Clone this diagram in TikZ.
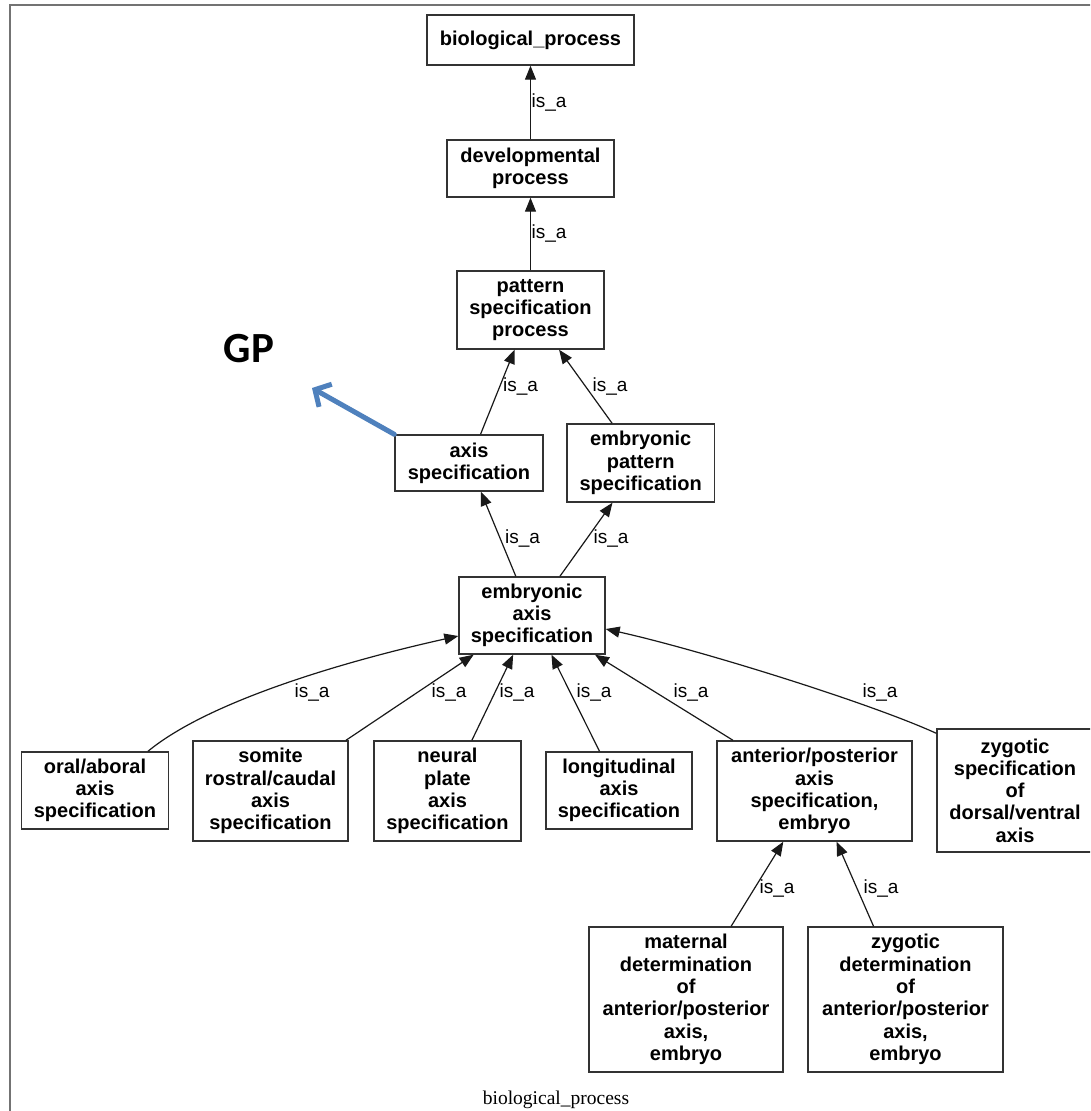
\documentclass[tikz,border=0pt]{standalone}
\usepackage{fontspec}
\setmainfont{Liberation Sans}
\newfontfamily\captionserif{Liberation Serif}
\newfontfamily\gpfont{Carlito}
\usetikzlibrary{arrows.meta}
\definecolor{gpblue}{HTML}{4F81BD}
\begin{document}
\begin{tikzpicture}[x=1pt,y=-1pt,
  term/.style={draw=black!80, line width=1.4pt, fill=white, align=center, inner sep=0pt,
    font=\bfseries\fontsize{20}{22.3}\selectfont},
  isa/.style={draw=black!90, line width=1.2pt, -{Triangle[length=14pt,width=11pt]}},
  lbl/.style={font=\fontsize{19}{22}\selectfont, inner sep=0pt},
  gparrow/.style={draw=gpblue, line width=5pt, line cap=round,
    -{Straight Barb[length=12pt,width=26pt]}},
]
\useasboundingbox (0,0) rectangle (1090,1111);
\fill[white] (0,0) rectangle (1090,1111);
\clip (0,0) rectangle (1090,1111);

% outer frame
\draw[draw=black!55, line width=2pt] (10,4.5) rectangle (1110,1130);

% terms
\node[term, minimum width=207pt, minimum height=50pt] (bio) at (530.5,40) {biological\_process};
\node[term, minimum width=167pt, minimum height=57pt] (dev) at (530.5,168.5) {developmental\\process};
\node[term, minimum width=147pt, minimum height=78pt] (pattern) at (530.5,310) {pattern\\specification\\process};
\node[term, minimum width=148pt, minimum height=56pt] (axis) at (469,463) {axis\\specification};
\node[term, minimum width=147.5pt, minimum height=78pt] (embpat) at (640.7,463) {embryonic\\pattern\\specification};
\node[term, minimum width=146pt, minimum height=77pt] (embaxis) at (532,615.5) {embryonic\\axis\\specification};
\node[term, minimum width=147.5pt, minimum height=77pt] (oral) at (95,790.5) {oral/aboral\\axis\\specification};
\node[term, minimum width=155pt, minimum height=100pt] (somite) at (270.5,791) {somite\\rostral/caudal\\axis\\specification};
\node[term, minimum width=147pt, minimum height=100pt] (neural) at (447.5,791) {neural\\plate\\axis\\specification};
\node[term, minimum width=146pt, minimum height=77pt] (longi) at (619,790.5) {longitudinal\\axis\\specification};
\node[term, minimum width=195pt, minimum height=100pt] (antpost) at (814.5,791) {anterior/posterior\\axis\\specification,\\embryo};
\node[term, minimum width=156pt, minimum height=123pt] (zygspec) at (1015,790.5) {zygotic\\specification\\of\\dorsal/ventral\\axis};
\node[term, minimum width=194pt, minimum height=145pt] (maternal) at (686,999.5) {maternal\\determination\\of\\anterior/posterior\\axis,\\embryo};
\node[term, minimum width=195pt, minimum height=145pt] (zygdet) at (905.5,999.5) {zygotic\\determination\\of\\anterior/posterior\\axis,\\embryo};

% is_a relations
\draw[isa] (dev) -- (bio);
\draw[isa] (pattern) -- (dev);
\draw[isa] (axis) -- (pattern);
\draw[isa] (embpat) -- (pattern);
\draw[isa] (embaxis) -- (axis);
\draw[isa] (embaxis) -- (embpat);
\draw[isa] ([xshift=-21.5pt]oral.north east) .. controls (210,700) and (350,660) .. ([yshift=-20.5pt]embaxis.west);
\draw[isa] (somite) -- (embaxis);
\draw[isa] (neural) -- (embaxis);
\draw[isa] (longi) -- (embaxis);
\draw[isa] (antpost) -- (embaxis);
\draw[isa] ([yshift=-5pt]zygspec.north west) .. controls (870,703) and (700,650) .. ([yshift=-13.5pt]embaxis.east);
\draw[isa] (maternal) -- (antpost);
\draw[isa] (zygdet) -- (antpost);

% edge labels
\node[lbl] (l1) at (549,103) {is\_a};
\node[lbl] (l2) at (549,233) {is\_a};
\node[lbl] (l3) at (520.5,386) {is\_a};
\node[lbl] (l4) at (610,386) {is\_a};
\node[lbl] (l5) at (522.6,538) {is\_a};
\node[lbl] (l6) at (611,538) {is\_a};
\node[lbl] (l7) at (312,692) {is\_a};
\node[lbl] (l8) at (449,692) {is\_a};
\node[lbl] (l9) at (517,692) {is\_a};
\node[lbl] (l10) at (594,692) {is\_a};
\node[lbl] (l11) at (691,692) {is\_a};
\node[lbl] (l12) at (880,692) {is\_a};
\node[lbl] (l13) at (777,888) {is\_a};
\node[lbl] (l14) at (881,888) {is\_a};

% annotation
\node[font=\gpfont\bfseries\fontsize{43}{43}\selectfont, inner sep=0pt] (gp) at (249,349) {GP};
\coordinate (gptip) at (312,388);
\draw[gparrow] (axis.north west) -- (gptip);

% caption
\node[font=\captionserif\fontsize{19.5}{22}\selectfont, inner sep=0pt] (caption) at (556,1100) {biological\_process};
\end{tikzpicture}
\end{document}
